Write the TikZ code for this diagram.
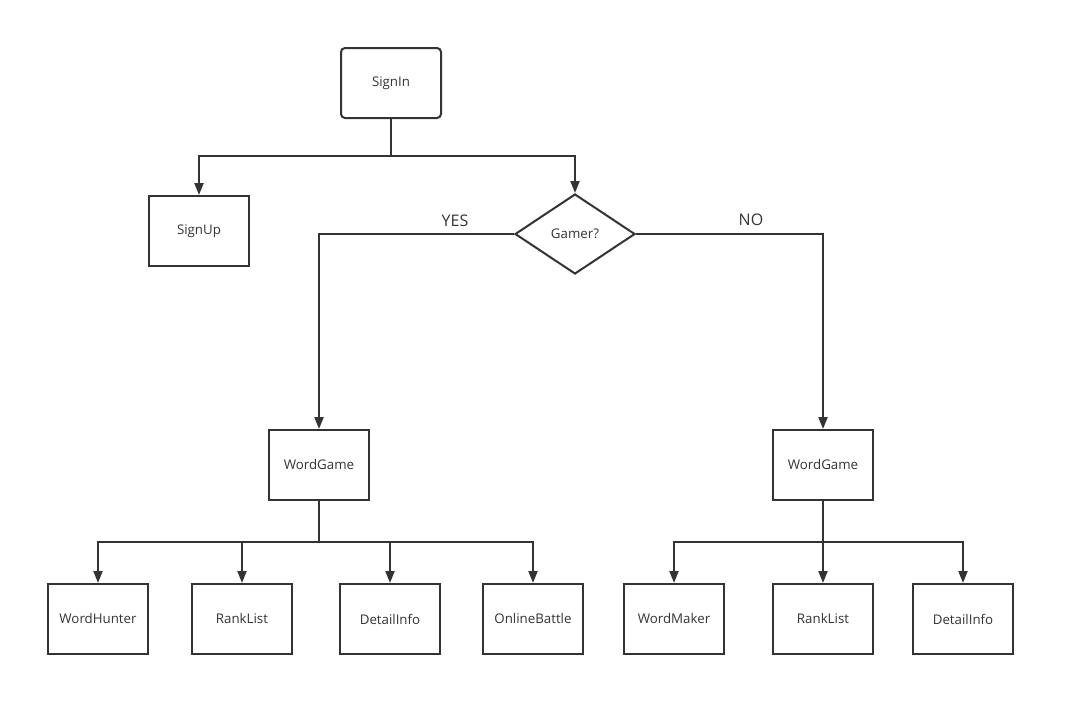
\documentclass[tikz,border=0pt]{standalone}
\usepackage{fontspec}
\setmainfont{Open Sans}
\usetikzlibrary{arrows.meta,shapes.geometric}
\definecolor{ln}{HTML}{333333}
\tikzset{
  box/.style={draw=ln,line width=2pt,minimum width=100pt,minimum height=70pt,inner sep=0pt,font=\fontsize{13.3}{15}\selectfont,text=ln},
  rbox/.style={box,rounded corners=4pt},
  dia/.style={draw=ln,line width=2pt,diamond,minimum width=120pt,minimum height=80pt,inner sep=0pt,aspect=1.5,font=\fontsize{13.3}{15}\selectfont,text=ln},
  conn/.style={draw=ln,line width=2pt},
  arr/.style={conn,-{Triangle[width=9pt,length=12pt]}},
  lbl/.style={font=\fontsize{16}{18}\selectfont,text=ln}
}
\begin{document}
\begin{tikzpicture}[x=1pt,y=-1pt]
\useasboundingbox (0,0) rectangle (1074,716);
\node[rbox] (signin) at (391,83) {SignIn};
\node[box] (signup) at (199,231) {SignUp};
\node[dia] (gamer) at (575,234) {Gamer?};
\node[box] (wgl) at (319,465) {WordGame};
\node[box] (wgr) at (823,465) {WordGame};
\node[box] (wh) at (98,619) {WordHunter};
\node[box] (rl1) at (242,619) {RankList};
\node[box] (di1) at (390,619) {DetailInfo};
\node[box] (ob) at (533,619) {OnlineBattle};
\node[box] (wm) at (674,619) {WordMaker};
\node[box] (rl2) at (823,619) {RankList};
\node[box] (di2) at (963,619) {DetailInfo};
\coordinate (j1) at (391,156);
\coordinate (j2) at (319,542);
\coordinate (j3) at (823,542);
\draw[conn] (signin.south) -- (j1);
\draw[arr] (j1) -| (signup.north);
\draw[arr] (j1) -| (gamer.north);
\draw[arr] (gamer.west) -| (wgl.north);
\draw[arr] (gamer.east) -| (wgr.north);
\node[lbl] (yes) at (455,221) {YES};
\node[lbl] (no) at (751,220) {NO};
\draw[conn] (wgl.south) -- (j2);
\foreach \n in {wh,rl1,di1,ob} \draw[arr] (j2) -| (\n.north);
\draw[conn] (wgr.south) -- (j3);
\foreach \n in {wm,rl2,di2} \draw[arr] (j3) -| (\n.north);
\end{tikzpicture}
\end{document}
